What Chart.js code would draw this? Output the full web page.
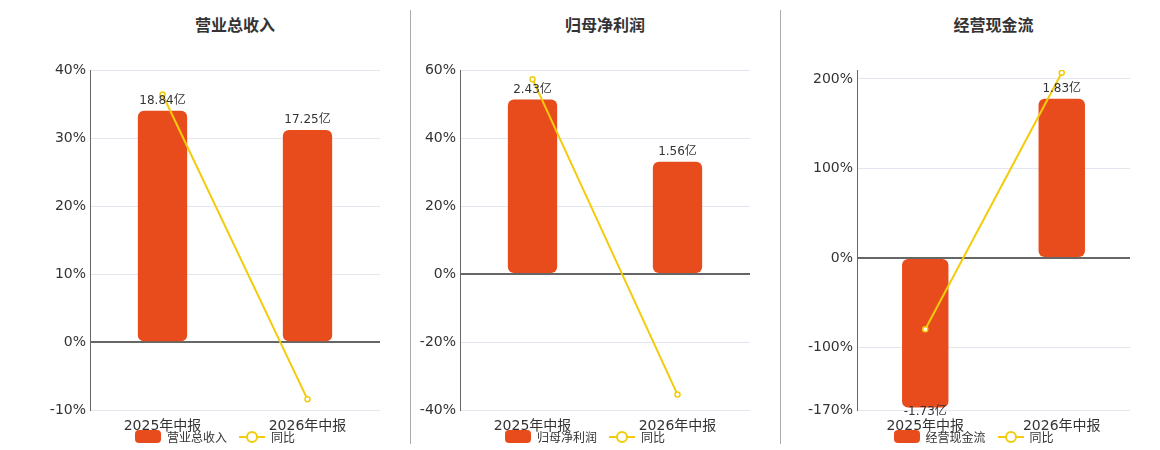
<!DOCTYPE html>
<html>
<head>
<meta charset="utf-8">
<script src="https://cdn.jsdelivr.net/npm/chart.js@4"></script>
<style>
body { margin: 0; width: 1160px; height: 450px; background: #fff; position: relative; overflow: hidden; font-family: "DejaVu Sans", "Noto Sans CJK SC", sans-serif; }
.panel { position: absolute; top: 0; height: 450px; }
.title { position: absolute; top: 12px; left: 0; right: 0; text-align: center; font: bold 16px "Noto Sans CJK SC", sans-serif; color: #333; }
.sep { position: absolute; top: 10px; height: 434px; width: 1px; background: #aaa; }
canvas { position: absolute; top: 55px; left: 0; }
.legend { position: absolute; top: 428px; font: 12px "Noto Sans CJK SC", sans-serif; color: #333; display: flex; align-items: center; }
.box { width: 26px; height: 13px; background: #e84c1c; border-radius: 4px; margin-right: 6px; }
.ln { position: relative; width: 26px; height: 13px; margin: 0 6px 0 12px; }
.ln:before { content: ""; position: absolute; left: 0; right: 0; top: 6px; height: 2px; background: #f2cc0c; }
.ln:after { content: ""; position: absolute; left: 7px; top: 1px; width: 8px; height: 8px; border: 2px solid #f2cc0c; border-radius: 50%; background: #fff; }
</style>
</head>
<body>
<div class="sep" style="left:410px"></div>
<div class="sep" style="left:780px"></div>

<script>
const categories = ["2025年中报", "2026年中报"];

const titles = ["营业总收入", "归母净利润", "经营现金流"];
const barValues1 = [34.0, 31.2];
const barLabels1 = ["18.84亿", "17.25亿"];
const yoy1 = [36.4, -8.4];
const ticks1 = [-10, 0, 10, 20, 30, 40];

const barValues2 = [51.3, 33.0];
const barLabels2 = ["2.43亿", "1.56亿"];
const yoy2 = [57.3, -35.4];
const ticks2 = [-40, -20, 0, 20, 40, 60];

const barValues3 = [-167, 178];
const barLabels3 = ["-1.73亿", "1.83亿"];
const yoy3 = [-79.5, 207];
const ticks3 = [-170, -100, 0, 100, 200];
const max3 = 210;

const panels = [
    { left: 0, width: 390, axisW: 90, bars: barValues1, labels: barLabels1, yoy: yoy1, ticks: ticks1, max: 40 },
    { left: 411, width: 349, axisW: 49, bars: barValues2, labels: barLabels2, yoy: yoy2, ticks: ticks2, max: 60 },
    { left: 781, width: 359, axisW: 76, bars: barValues3, labels: barLabels3, yoy: yoy3, ticks: ticks3, max: max3 }
];

const barLabelPlugin = {
    id: "barLabels",
    afterDatasetsDraw(chart, args, opts) {
        const ctx = chart.ctx;
        const meta = chart.getDatasetMeta(0);
        ctx.save();
        ctx.font = "12px 'DejaVu Sans', 'Noto Sans CJK SC'";
        ctx.fillStyle = "#333";
        ctx.textAlign = "center";
        meta.data.forEach((bar, i) => {
            const v = chart.data.datasets[0].data[i];
            if (v >= 0) {
                ctx.textBaseline = "bottom";
                ctx.fillText(opts.labels[i], bar.x, bar.y - 4);
            } else {
                ctx.textBaseline = "top";
                ctx.fillText(opts.labels[i], bar.x, bar.y - 2);
            }
        });
        ctx.restore();
    }
};

panels.forEach((p, idx) => {
    const div = document.createElement("div");
    div.className = "panel";
    div.style.left = p.left + "px";
    div.style.width = p.width + "px";
    div.innerHTML = `<div class="title" style="left:${p.axisW}px;right:10px">${titles[idx]}</div>
        <canvas width="${p.width}" height="380"></canvas>
        <div class="legend" style="left:${p.axisW + (p.width - p.axisW - 10) / 2 - 100}px"><div class="box"></div>${titles[idx]}<div class="ln"></div>同比</div>`;
    document.body.appendChild(div);
    const canvas = div.querySelector("canvas");
    canvas.style.width = p.width + "px";
    canvas.style.height = "380px";

    new Chart(canvas, {
        data: {
            labels: categories,
            datasets: [
                {
                    type: "line",
                    label: "同比",
                    data: p.yoy,
                    borderColor: "#f2cc0c",
                    borderWidth: 2,
                    pointRadius: 2.5,
                    pointBorderWidth: 1.5,
                    pointBackgroundColor: "#fff",
                    pointBorderColor: "#f2cc0c",
                    order: 0
                },
                {
                    type: "bar",
                    label: titles[idx],
                    data: p.bars,
                    backgroundColor: "#e84c1c",
                    borderRadius: 6,
                    borderSkipped: false,
                    barPercentage: 0.34,
                    categoryPercentage: 1,
                    order: 1
                }
            ].reverse()
        },
        options: {
            responsive: false,
            animation: false,
            layout: { padding: { top: 15, right: 10, bottom: 0 } },
            plugins: {
                legend: { display: false },
                tooltip: { enabled: false },
                barLabels: { labels: p.labels }
            },
            scales: {
                x: {
                    grid: { display: false },
                    border: { display: false },
                    ticks: { color: "#333", font: { size: 14, family: "'DejaVu Sans', 'Noto Sans CJK SC'" }, padding: 0 }
                },
                y: {
                    min: p.ticks[0],
                    max: p.max,
                    afterBuildTicks: axis => { axis.ticks = p.ticks.map(v => ({ value: v })); },
                    afterFit: axis => { axis.width = p.axisW; },
                    grid: {
                        color: c => c.tick.value === 0 ? "#666" : "#e3e6ef",
                        lineWidth: c => c.tick.value === 0 ? 2 : 1,
                        drawTicks: false
                    },
                    border: { color: "#666", width: 1 },
                    ticks: {
                        color: "#333",
                        padding: 4,
                        font: { size: 14, family: "'DejaVu Sans'" },
                        callback: v => v + "%"
                    }
                }
            }
        },
        plugins: [barLabelPlugin]
    });
});
</script>
</body>
</html>
